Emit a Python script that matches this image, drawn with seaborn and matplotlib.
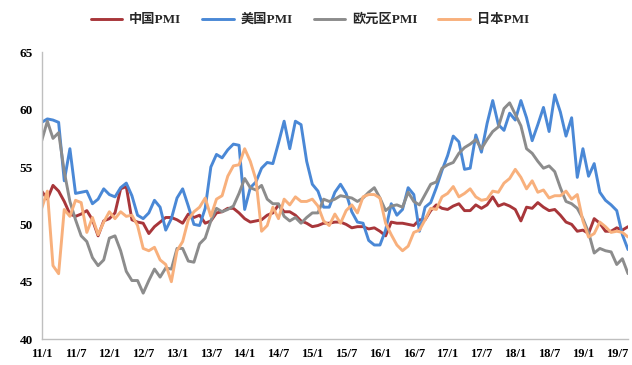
import matplotlib
matplotlib.use("Agg")
import matplotlib.pyplot as plt
import numpy as np
import pandas as pd
import seaborn as sns

# Monthly manufacturing PMI, 2011/01 - 2019/09
months = pd.period_range("2011-01", "2019-09", freq="M")

china_pmi = [
    52.9, 52.2, 53.4, 52.9, 52.0, 50.9, 50.7, 50.9, 51.2, 50.4, 49.0, 50.3,
    50.5, 51.0, 53.1, 53.3, 50.4, 50.2, 50.1, 49.2, 49.8, 50.2, 50.6, 50.6,
    50.4, 50.1, 50.9, 50.6, 50.8, 50.1, 50.3, 51.0, 51.1, 51.4, 51.4, 51.0,
    50.5, 50.2, 50.3, 50.4, 50.8, 51.0, 51.7, 51.1, 51.1, 50.8, 50.3, 50.1,
    49.8, 49.9, 50.1, 50.1, 50.2, 50.2, 50.0, 49.7, 49.8, 49.8, 49.6, 49.7,
    49.4, 49.0, 50.2, 50.1, 50.1, 50.0, 49.9, 50.4, 50.4, 51.2, 51.7, 51.4,
    51.3, 51.6, 51.8, 51.2, 51.2, 51.7, 51.4, 51.7, 52.4, 51.6, 51.8, 51.6,
    51.3, 50.3, 51.5, 51.4, 51.9, 51.5, 51.2, 51.3, 50.8, 50.2, 50.0, 49.4,
    49.5, 49.2, 50.5, 50.1, 49.4, 49.4, 49.7, 49.5, 49.8,
]

us_pmi = [
    58.9, 59.2, 59.1, 58.9, 53.8, 56.6, 52.7, 52.8, 52.9, 51.8, 52.2, 53.1,
    52.6, 52.4, 53.2, 53.6, 52.5, 50.8, 50.5, 51.0, 52.1, 51.5, 49.5, 50.5,
    52.3, 53.1, 51.6, 50.0, 49.9, 51.4, 55.0, 56.1, 55.8, 56.5, 57.0, 56.9,
    51.3, 53.2, 53.7, 54.9, 55.4, 55.3, 57.1, 59.0, 56.6, 59.0, 58.7, 55.5,
    53.5, 52.9, 51.5, 51.5, 52.8, 53.5, 52.7, 51.1, 50.2, 50.1, 48.6, 48.2,
    48.2, 49.5, 51.8, 50.8, 51.3, 53.2, 52.6, 49.4, 51.5, 51.9, 53.2, 54.7,
    56.0, 57.7, 57.2, 54.8, 54.9, 57.8, 56.3, 58.8, 60.8, 58.7, 58.2, 59.7,
    59.1, 60.8, 59.3, 57.3, 58.7, 60.2, 58.1, 61.3, 59.8, 57.7, 59.3, 54.1,
    56.6, 54.2, 55.3, 52.8, 52.1, 51.7, 51.2, 49.1, 47.8,
]

euro_pmi = [
    57.3, 59.0, 57.5, 58.0, 54.6, 52.0, 50.4, 49.0, 48.5, 47.1, 46.4, 46.9,
    48.8, 49.0, 47.7, 45.9, 45.1, 45.1, 44.0, 45.1, 46.1, 45.4, 46.2, 46.1,
    47.9, 47.9, 46.8, 46.7, 48.3, 48.8, 50.3, 51.4, 51.1, 51.3, 51.6, 52.7,
    54.0, 53.2, 53.0, 53.4, 52.2, 51.8, 51.8, 50.7, 50.3, 50.6, 50.1, 50.6,
    51.0, 51.0, 52.2, 52.0, 52.2, 52.5, 52.4, 52.3, 52.0, 52.3, 52.8, 53.2,
    52.3, 51.2, 51.6, 51.7, 51.5, 52.8, 52.0, 51.7, 52.6, 53.5, 53.7, 54.9,
    55.2, 55.4, 56.2, 56.7, 57.0, 57.4, 56.6, 57.4, 58.1, 58.5, 60.1, 60.6,
    59.6, 58.6, 56.6, 56.2, 55.5, 54.9, 55.1, 54.6, 53.2, 52.0, 51.8, 51.4,
    50.5, 49.3, 47.5, 47.9, 47.7, 47.6, 46.5, 47.0, 45.7,
]

japan_pmi = [
    51.4, 52.9, 46.4, 45.7, 51.3, 50.7, 52.1, 51.9, 49.3, 50.6, 49.1, 50.2,
    51.1, 50.5, 51.1, 50.7, 50.8, 49.9, 47.9, 47.7, 48.0, 46.9, 46.5, 45.0,
    47.7, 48.5, 50.4, 51.1, 51.5, 52.3, 50.7, 52.2, 52.5, 54.2, 55.1, 55.2,
    56.6, 55.5, 53.9, 49.4, 49.9, 51.5, 50.5, 52.2, 51.7, 52.4, 52.0, 52.0,
    52.2, 51.6, 50.3, 49.9, 50.9, 50.1, 51.2, 51.7, 51.0, 52.4, 52.6, 52.6,
    52.3, 50.1, 49.1, 48.2, 47.7, 48.1, 49.3, 49.5, 50.4, 51.4, 51.3, 52.4,
    52.7, 53.3, 52.4, 52.7, 53.1, 52.4, 52.1, 52.2, 52.9, 52.8, 53.6, 54.0,
    54.8, 54.1, 53.1, 53.8, 52.8, 53.0, 52.3, 52.5, 52.5, 52.9, 52.2, 52.6,
    50.3, 48.9, 49.2, 50.2, 49.8, 49.3, 49.4, 49.3, 48.9,
]

series_names = ["中国PMI", "美国PMI", "欧元区PMI", "日本PMI"]
series_values = [china_pmi, us_pmi, euro_pmi, japan_pmi]
series_colors = ["#A8363A", "#4A88D6", "#8C8C8C", "#F8B07C"]

tick_labels = ["11/1", "11/7", "12/1", "12/7", "13/1", "13/7", "14/1", "14/7",
               "15/1", "15/7", "16/1", "16/7", "17/1", "17/7", "18/1", "18/7",
               "19/1", "19/7"]
y_ticks = [40, 45, 50, 55, 60, 65]

frames = []
for name, vals in zip(series_names, series_values):
    frames.append(pd.DataFrame({"idx": np.arange(len(months)),
                                "value": vals, "series": name}))
df = pd.concat(frames, ignore_index=True)

sns.set_theme(style="white")
plt.rcParams["font.family"] = ["Liberation Serif", "Noto Sans CJK SC", "DejaVu Sans"]

fig = plt.figure(figsize=(6.32, 3.65), dpi=100)
ax = fig.add_axes([0.066, 0.0712, 0.9937 - 0.066, 0.8564 - 0.0712])

sns.lineplot(data=df, x="idx", y="value", hue="series", hue_order=series_names,
             palette=dict(zip(series_names, series_colors)), linewidth=2.1,
             ax=ax, legend=False)

ax.set_xlim(0, len(months) - 1)
ax.set_ylim(40, 65)
ax.set_xticks(np.arange(0, len(months), 6))
ax.set_xticklabels(tick_labels, fontsize=9, fontweight="bold")
ax.set_yticks(y_ticks)
ax.set_yticklabels([str(v) for v in y_ticks], fontsize=9.5, fontweight="bold")
ax.set_xlabel("")
ax.set_ylabel("")

for side in ["top", "right"]:
    ax.spines[side].set_visible(False)
for side in ["left", "bottom"]:
    ax.spines[side].set_color("#BFBFBF")
    ax.spines[side].set_linewidth(1.0)
ax.tick_params(axis="both", direction="out", length=3.5, width=0.8,
               color="#BFBFBF", labelcolor="black", pad=3)
ax.grid(False)

handles = [plt.Line2D([], [], color=c, linewidth=2.1) for c in series_colors]
fig.legend(handles, series_names, loc="center", bbox_to_anchor=(0.49, 0.945),
           ncol=4, frameon=False, handlelength=2.4, handletextpad=0.5,
           columnspacing=1.6, prop={"weight": "bold", "size": 9.5})

fig.savefig("out.png", dpi=100)
